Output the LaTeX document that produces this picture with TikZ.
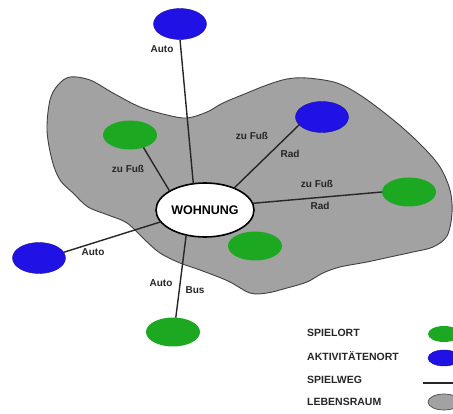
\documentclass[tikz,border=0pt]{standalone}
\usepackage{fontspec}
\setmainfont{Liberation Sans}
\usepackage{tikz}
\usetikzlibrary{shapes.geometric}

\definecolor{spielgreen}{RGB}{28,168,32}
\definecolor{aktivblue}{RGB}{32,18,228}
\definecolor{raumgray}{RGB}{162,162,162}

\tikzset{
  spielort/.style={ellipse,fill=spielgreen,inner sep=0pt,outer sep=0pt,
    minimum width=54pt,minimum height=29pt},
  aktivort/.style={ellipse,fill=aktivblue,draw=aktivblue!70!black,inner sep=0pt,
    outer sep=0pt,minimum width=53pt,minimum height=31pt},
  wohnort/.style={ellipse,draw=black,fill=white,line width=1.6pt,inner sep=0pt,
    outer sep=0pt,minimum width=98pt,minimum height=54pt,
    font=\fontsize{12.5}{14}\selectfont\bfseries},
  weg/.style={line width=1.4pt,black!85},
  lbl/.style={font=\fontsize{10}{12}\selectfont\bfseries,text=black!85,inner sep=1pt},
  leglbl/.style={lbl,font=\fontsize{10.5}{12}\selectfont\bfseries,anchor=west},
}

\begin{document}
\begin{tikzpicture}[x=1pt,y=-1pt]
    \clip (0,0) rectangle (453,414);
    % Lebensraum
    \draw[fill=raumgray,draw=black!75,line width=0.9pt]
      plot[smooth cycle,tension=0.55] coordinates {
        (70,77) (90,80) (113,93) (140,107) (167,115) (187,118) (207,112)
        (223,103) (247,93) (267,85) (287,79) (307,78) (337,83) (363,97)
        (397,123) (423,147) (440,167) (450,190) (452,213) (447,236)
        (433,247) (413,252) (390,257) (367,262) (340,267) (323,273)
        (307,282) (287,288) (267,293) (250,293) (228,281) (200,270)
        (180,263) (160,253) (145,240) (127,223) (108,215) (88,207)
        (73,193) (60,180) (52,160) (47,130) (50,100) (58,85)};
    % Orte
    \node[aktivort] (aktivoben)  at (180,24)  {};
    \node[aktivort] (aktivrechts) at (322,117) {};
    \node[aktivort] (aktivlinks) at (39,258)  {};
    \node[spielort] (spielobl)   at (130,135) {};
    \node[spielort] (spielrechts) at (409,192) {};
    \node[spielort] (spielnah)   at (255,246) {};
    \node[spielort] (spielunten) at (173,332) {};
    \node[wohnort]  (wohnung)    at (205,210) {WOHNUNG};
    % Spielwege
    \draw[weg] (aktivoben.south)   -- (wohnung.114);
    \draw[weg] (spielobl.317)      -- (wohnung.152);
    \draw[weg] (aktivrechts.199)   -- (wohnung.37);
    \draw[weg] (spielrechts.west)  -- (wohnung.8);
    \draw[weg] (aktivlinks.13)     -- (wohnung.195);
    \draw[weg] (spielunten.79)     -- (wohnung.233);
    % Verkehrsmittel
    \node[lbl] (autooben)   at (162,49)  {Auto};
    \node[lbl] (fussobl)    at (128,169) {zu Fuß};
    \node[lbl] (fussobr)    at (252,136) {zu Fuß};
    \node[lbl] (radobr)     at (290,154) {Rad};
    \node[lbl] (fussrechts) at (317,184) {zu Fuß};
    \node[lbl] (radrechts)  at (320,206) {Rad};
    \node[lbl] (autolinks)  at (93,252)  {Auto};
    \node[lbl] (autounten)  at (161,283) {Auto};
    \node[lbl] (busunten)   at (195,290) {Bus};
    % Legende
    \foreach \y/\txt/\nm in {333/SPIELORT/spiel,356/AKTIVITÄTENORT/aktiv,
                             380/SPIELWEG/weg,402/LEBENSRAUM/raum} {
        \node[leglbl] (leg\nm) at (306,\y) {\txt};
    }
    \node[spielort,minimum width=32pt,minimum height=16pt] (legspielort) at (444,334) {};
    \node[aktivort,minimum width=32pt,minimum height=16pt] (legaktivort) at (444,358) {};
    \node[ellipse,fill=raumgray,draw=black!70,line width=0.7pt,inner sep=0pt,
          minimum width=32pt,minimum height=16pt] (legraum) at (444,402) {};
    \coordinate (legwega) at (423,383);
    \coordinate (legwegb) at (455,383);
    \draw[weg] (legwega) -- (legwegb);
\end{tikzpicture}
\end{document}
